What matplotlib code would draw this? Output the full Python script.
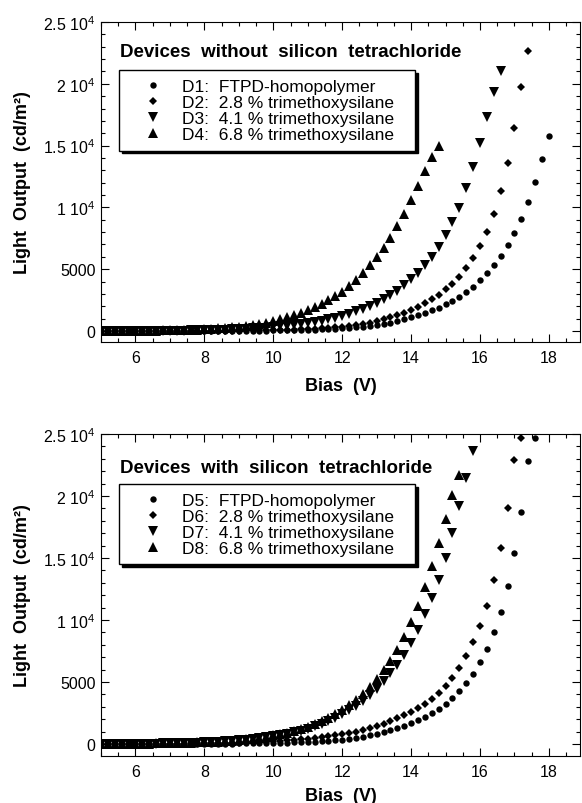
import matplotlib
matplotlib.use("Agg")
import matplotlib.pyplot as plt
from matplotlib.ticker import MultipleLocator

plt.rcParams['font.family'] = ['Liberation Sans', 'DejaVu Sans']
plt.rcParams['mathtext.fontset'] = 'custom'
plt.rcParams['mathtext.rm'] = 'Liberation Sans'

# Bias grid (V), 0.2 V steps, shared by all devices
bias = [5.0, 5.2, 5.4, 5.6, 5.8, 6.0, 6.2, 6.4, 6.6, 6.8,
        7.0, 7.2, 7.4, 7.6, 7.8, 8.0, 8.2, 8.4, 8.6, 8.8,
        9.0, 9.2, 9.4, 9.6, 9.8, 10.0, 10.2, 10.4, 10.6, 10.8,
        11.0, 11.2, 11.4, 11.6, 11.8, 12.0, 12.2, 12.4, 12.6, 12.8,
        13.0, 13.2, 13.4, 13.6, 13.8, 14.0, 14.2, 14.4, 14.6, 14.8,
        15.0, 15.2, 15.4, 15.6, 15.8, 16.0, 16.2, 16.4, 16.6, 16.8,
        17.0, 17.2, 17.4, 17.6, 17.8, 18.0]

# Light output (cd/m^2), devices without silicon tetrachloride
d1 = [1, 1, 1, 1, 1, 2, 2, 2, 3, 3,
      4, 4, 5, 6, 7, 8, 10, 12, 14, 16,
      19, 22, 26, 31, 37, 43, 51, 60, 71, 83,
      98, 115, 135, 158, 186, 218, 255, 300, 350, 410,
      485, 570, 670, 810, 940, 1100, 1290, 1480, 1670, 1890,
      2160, 2450, 2780, 3160, 3590, 4130, 4670, 5310, 6070, 6930,
      7960, 9090, 10440, 12080, 13920, 15800]
d2 = [1, 2, 2, 2, 3, 3, 4, 4, 5, 6,
      7, 8, 9, 11, 13, 15, 18, 21, 25, 29,
      34, 40, 47, 55, 64, 75, 87, 101, 118, 138,
      160, 185, 215, 250, 290, 340, 405, 485, 590, 670,
      810, 940, 1100, 1270, 1480, 1670, 1940, 2240, 2560, 2940,
      3370, 3830, 4400, 5070, 5880, 6880, 8040, 9490, 11300, 13570,
      16420, 19720, 22680]
d3 = [3, 4, 5, 6, 8, 10, 12, 15, 18, 22,
      27, 32, 39, 47, 56, 67, 80, 95, 112, 132,
      150, 176, 205, 238, 277, 320, 370, 425, 485, 545,
      620, 700, 810, 940, 1080, 1210, 1400, 1590, 1810, 2020,
      2290, 2560, 2890, 3240, 3690, 4180, 4720, 5310, 6010, 6800,
      7740, 8820, 9980, 11550, 13240, 15190, 17290, 19360, 21010]
d4 = [5, 7, 9, 11, 14, 18, 23, 29, 36, 45,
      55, 67, 82, 100, 120, 145, 174, 208, 248, 295,
      350, 415, 490, 580, 680, 800, 940, 1100, 1270, 1480,
      1670, 1940, 2210, 2510, 2830, 3180, 3640, 4130, 4670, 5310,
      6010, 6740, 7550, 8500, 9490, 10600, 11760, 12920, 14100, 14990]

# Light output (cd/m^2), devices with silicon tetrachloride
d5 = [1, 2, 2, 2, 3, 3, 4, 5, 6, 7,
      8, 9, 11, 13, 15, 18, 21, 25, 29, 34,
      39, 46, 53, 62, 72, 83, 96, 111, 128, 148,
      170, 195, 225, 260, 300, 350, 430, 510, 590, 700,
      810, 940, 1100, 1260, 1450, 1670, 1910, 2200, 2500, 2850,
      3250, 3710, 4250, 4920, 5670, 6590, 7660, 9000, 10640, 12770,
      15400, 18730, 22850, 24650]
d6 = [3, 4, 5, 6, 7, 9, 11, 13, 16, 19,
      23, 27, 32, 38, 45, 53, 62, 72, 84, 97,
      112, 129, 148, 170, 194, 222, 253, 288, 328, 372,
      422, 478, 540, 610, 690, 780, 890, 995, 1130, 1290,
      1450, 1640, 1850, 2070, 2310, 2580, 2880, 3230, 3630, 4110,
      4700, 5320, 6130, 7070, 8200, 9540, 11150, 13250, 15780, 19030,
      22900, 24650]
d7 = [6, 8, 10, 12, 15, 19, 24, 29, 35, 42,
      51, 62, 74, 88, 105, 125, 148, 175, 206, 242,
      284, 332, 388, 452, 525, 610, 705, 815, 940, 1080,
      1240, 1420, 1640, 1850, 2120, 2390, 2710, 3090, 3490, 3950,
      4440, 5050, 5730, 6400, 7200, 8140, 9220, 10510, 11800, 13250,
      15000, 17020, 19170, 21450, 23650]
d8 = [7, 9, 11, 14, 17, 21, 26, 32, 39, 47,
      57, 69, 83, 99, 118, 140, 166, 196, 231, 272,
      320, 375, 438, 510, 595, 690, 800, 920, 1060, 1220,
      1400, 1610, 1850, 2120, 2450, 2770, 3140, 3580, 4060, 4600,
      5240, 5940, 6720, 7610, 8630, 9810, 11150, 12640, 14380, 16210,
      18150, 20080, 21690]

top_labels = ["D1:  FTPD-homopolymer", "D2:  2.8 % trimethoxysilane",
              "D3:  4.1 % trimethoxysilane", "D4:  6.8 % trimethoxysilane"]
bottom_labels = ["D5:  FTPD-homopolymer", "D6:  2.8 % trimethoxysilane",
                 "D7:  4.1 % trimethoxysilane", "D8:  6.8 % trimethoxysilane"]

yticks = [0, 5000, 10000, 15000, 20000, 25000]
ytick_labels = ["0", "5000", r"1 $\mathregular{10^4}$", r"1.5 $\mathregular{10^4}$",
                r"2 $\mathregular{10^4}$", r"2.5 $\mathregular{10^4}$"]
xticks = [6, 8, 10, 12, 14, 16, 18]

markers = [('o', 4.6), ('D', 4.4), ('v', 6.8), ('^', 6.6)]


def draw_panel(ax, series, labels, title, ybottom, title_y, leg_y, xlab_y):
    for vals, lab, (m, ms) in zip(series, labels, markers):
        ax.plot(bias[:len(vals)], vals, ls='none', marker=m, ms=ms, mew=0,
                color='k', label=lab)

    ax.set_xlim(5, 18.9)
    ax.set_ylim(ybottom, 25000)
    ax.set_xticks(xticks)
    ax.set_yticks(yticks, ytick_labels)
    ax.xaxis.set_minor_locator(MultipleLocator(0.5))
    ax.yaxis.set_minor_locator(MultipleLocator(1000))
    ax.tick_params(which='both', direction='in', top=True, right=True,
                   width=0.8, labelsize=11.5)
    ax.tick_params(which='major', length=6)
    ax.tick_params(which='minor', length=3)
    ax.tick_params(axis='x', pad=6)
    ax.tick_params(axis='y', pad=4)
    for sp in ax.spines.values():
        sp.set_linewidth(0.8)

    ax.set_xlabel("Bias  (V)", fontsize=13, fontweight='bold', va='top')
    ax.xaxis.set_label_coords(0.5, xlab_y)
    ax.set_ylabel("Light  Output  (cd/m²)", fontsize=13, fontweight='bold',
                  va='center')
    ax.yaxis.set_label_coords(-0.163, 0.5)

    ax.text(0.0397, title_y, title, transform=ax.transAxes, fontsize=13.5,
            fontweight='bold', va='baseline', ha='left')

    # legend box: fixed width (about 296 px), top edge at leg_y
    leg = ax.legend(loc='upper left', bbox_to_anchor=(0.0376, 0, 0.618, leg_y),
                    mode='expand', borderaxespad=0, fontsize=12.5,
                    frameon=True, fancybox=False,
                    shadow={'color': 'k', 'alpha': 1},
                    handlelength=2.9, handletextpad=0.22, borderpad=0.5,
                    labelspacing=0.05)
    frame = leg.get_frame()
    frame.set_edgecolor('k')
    frame.set_linewidth(1.0)
    frame.set_alpha(1)


fig = plt.figure(figsize=(5.82, 8.04), dpi=100)
ax1 = fig.add_axes([0.1735, 0.5734, 0.823, 0.398])
ax2 = fig.add_axes([0.1735, 0.0585, 0.823, 0.4005])

draw_panel(ax1, [d1, d2, d3, d4], top_labels,
           "Devices  without  silicon  tetrachloride", -890, 0.894, 0.85, -0.109)
draw_panel(ax2, [d5, d6, d7, d8], bottom_labels,
           "Devices  with  silicon  tetrachloride", -970, 0.882, 0.845, -0.096)

fig.savefig("out.png", dpi=100)
